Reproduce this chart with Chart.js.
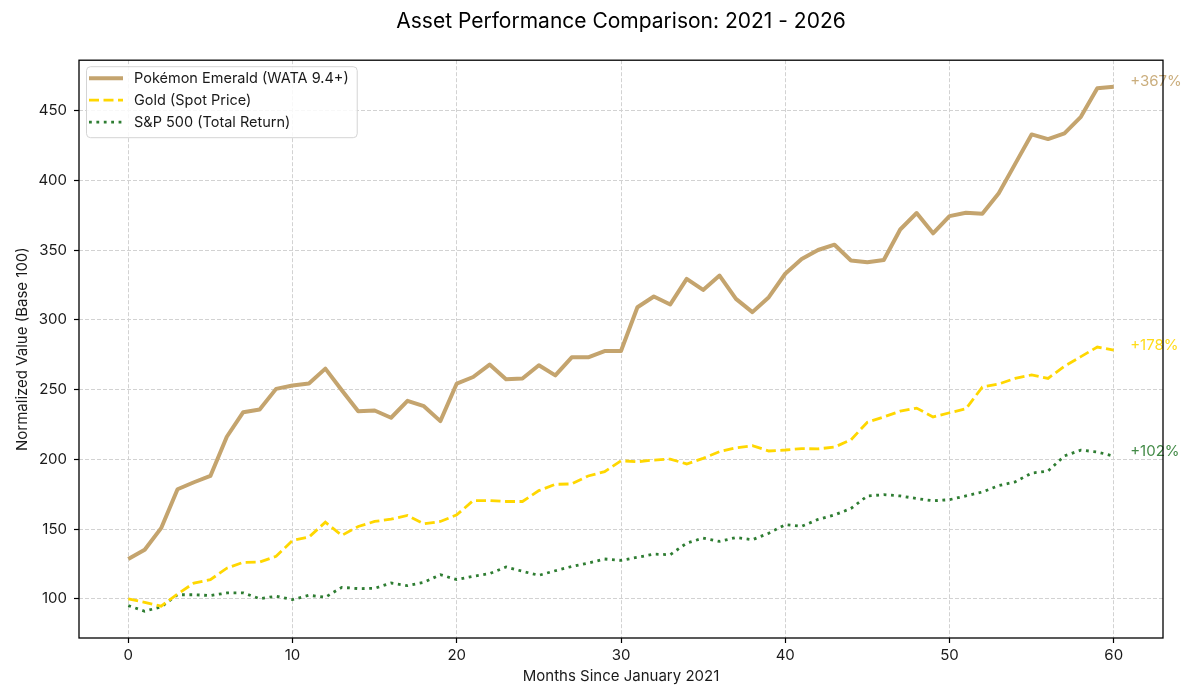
<!DOCTYPE html>
<html>
<head>
<meta charset="utf-8">
<title>Asset Performance Comparison</title>
<script src="https://cdn.jsdelivr.net/npm/chart.js@4.4.1/dist/chart.umd.min.js"></script>
<style>
  html, body { margin: 0; padding: 0; background: #fff; }
  #wrap { width: 1200px; height: 700px; }
</style>
</head>
<body>
<div id="wrap"><canvas id="myChart" width="1200" height="700"></canvas></div>
<script>
// months since Jan 2021
var months = [0, 1, 2, 3, 4, 5, 6, 7, 8, 9, 10, 11, 12, 13, 14, 15, 16, 17, 18, 19, 20,
    21, 22, 23, 24, 25, 26, 27, 28, 29, 30, 31, 32, 33, 34, 35, 36, 37, 38, 39, 40,
    41, 42, 43, 44, 45, 46, 47, 48, 49, 50, 51, 52, 53, 54, 55, 56, 57, 58, 59, 60];

var pokemon = [128.6, 135.2, 150.7, 178.6, 183.6, 188.1, 216.2, 233.8, 235.7, 250.5, 252.9,
    254.3, 265.0, 249.5, 234.5, 235.0, 229.8, 241.9, 238.1, 227.4, 254.3,
    259.0, 267.9, 257.4, 257.9, 267.4, 260.2, 273.1, 273.1, 277.6, 277.6,
    309.0, 316.7, 311.0, 329.3, 321.4, 331.7, 315.0, 305.5, 316.2, 333.0,
    343.5, 350.0, 353.8, 342.5, 341.2, 342.8, 364.7, 376.5, 362.0, 374.3,
    376.7, 375.9, 390.7, 411.7, 432.8, 429.5, 433.6, 445.4, 465.9, 467.0];

var gold = [100.0, 97.6, 94.8, 103.5, 111.4, 113.8, 122.0, 126.2, 126.4, 130.5, 141.9,
    144.3, 155.0, 145.5, 151.9, 155.5, 157.1, 159.8, 153.8, 155.5, 160.2,
    170.5, 170.5, 169.8, 169.8, 177.6, 182.1, 182.4, 188.1, 191.2, 199.0,
    198.3, 199.5, 200.2, 196.7, 200.7, 205.5, 208.3, 209.8, 206.0, 206.7,
    207.7, 207.5, 208.8, 214.0, 226.6, 230.4, 234.5, 236.7, 230.4, 233.4,
    236.2, 251.8, 254.0, 258.0, 260.5, 258.0, 266.8, 273.6, 280.5, 278.2];

var sp500 = [95.2, 91.2, 94.3, 103.0, 103.0, 102.4, 104.3, 104.3, 100.2, 101.9, 99.5,
    102.6, 101.2, 108.3, 107.4, 107.6, 111.4, 109.5, 111.9, 117.4, 113.8,
    116.2, 118.1, 122.9, 119.8, 116.9, 120.2, 123.3, 125.7, 128.6, 127.6,
    129.8, 132.1, 131.7, 140.0, 143.6, 141.2, 144.0, 142.4, 147.1, 153.2,
    152.0, 157.0, 160.2, 164.8, 173.8, 174.7, 173.8, 171.9, 170.3, 171.1,
    173.8, 176.6, 181.2, 183.9, 190.2, 191.6, 202.5, 206.6, 205.3, 202.3];

var seriesNames = ['Pokémon Emerald (WATA 9.4+)', 'Gold (Spot Price)', 'S&P 500 (Total Return)'];
var xTicks = [0, 10, 20, 30, 40, 50, 60];
var yTicks = [100, 150, 200, 250, 300, 350, 400, 450];

var FONT = 'Inter, "Noto Sans", sans-serif';
var TEXT = '#1a1a1a';

function points(vals) {
    return months.map(function (m, i) { return { x: m, y: vals[i] }; });
}

// "+367%" style labels just right of the last point
var endLabels = {
    id: 'endLabels',
    afterDatasetsDraw: function (chart) {
        var ctx = chart.ctx;
        var xs = chart.scales.x, ys = chart.scales.y;
        ctx.save();
        ctx.font = '15px ' + FONT;
        ctx.textAlign = 'left';
        ctx.textBaseline = 'middle';
        ctx.globalAlpha = 0.9;
        chart.data.datasets.forEach(function (ds) {
            var last = ds.data[ds.data.length - 1];
            var gain = Math.round(last.y - 100);
            ctx.fillStyle = ds.borderColor;
            ctx.fillText('+' + gain + '%', xs.getPixelForValue(last.x + 1), ys.getPixelForValue(last.y) - 5);
        });
        ctx.restore();
    }
};

// boxed legend in the top-left corner + full frame round the plot
var boxLegend = {
    id: 'boxLegend',
    afterDraw: function (chart) {
        var ctx = chart.ctx;
        var a = chart.chartArea;
        var x0 = a.left + 7, y0 = a.top + 6;
        ctx.save();
        ctx.font = '14.5px ' + FONT;
        var textW = 0;
        chart.data.datasets.forEach(function (ds) {
            textW = Math.max(textW, ctx.measureText(ds.label).width);
        });
        var w = 48 + textW + 8, h = 71;
        ctx.beginPath();
        ctx.roundRect(x0 + 0.5, y0 + 0.5, w, h, 4);
        ctx.fillStyle = 'rgba(255,255,255,0.85)';
        ctx.fill();
        ctx.strokeStyle = '#d4d4d4';
        ctx.lineWidth = 1;
        ctx.stroke();

        chart.data.datasets.forEach(function (ds, i) {
            var cy = y0 + 12 + i * 22;
            ctx.beginPath();
            ctx.setLineDash(ds.borderDash || []);
            ctx.lineWidth = ds.borderWidth;
            ctx.strokeStyle = ds.borderColor;
            ctx.lineCap = 'butt';
            ctx.moveTo(x0 + 3, cy);
            ctx.lineTo(x0 + 37, cy);
            ctx.stroke();
            ctx.setLineDash([]);
            ctx.fillStyle = TEXT;
            ctx.textBaseline = 'middle';
            ctx.fillText(ds.label, x0 + 48, cy);
        });

        ctx.strokeStyle = '#000';
        ctx.lineWidth = 1.3;
        ctx.strokeRect(a.left, a.top, a.right - a.left, a.bottom - a.top);
        ctx.restore();
    }
};

var gridOpts = {
    color: '#d2d2d2',
    lineWidth: 1,
    tickColor: '#000',
    tickLength: 5,
    tickWidth: 1.2,
    tickBorderDash: []
};

var ctx = document.getElementById('myChart').getContext('2d');
var myChart = new Chart(ctx, {
    type: 'line',
    data: {
        datasets: [{
            label: seriesNames[0],
            data: points(pokemon),
            borderColor: '#C4A46E',
            borderWidth: 4,
            borderJoinStyle: 'round',
            pointRadius: 0,
            tension: 0,
            fill: false
        }, {
            label: seriesNames[1],
            data: points(gold),
            borderColor: '#FFD700',
            borderWidth: 2.8,
            borderDash: [10, 4.5],
            borderCapStyle: 'butt',
            pointRadius: 0,
            tension: 0,
            fill: false
        }, {
            label: seriesNames[2],
            data: points(sp500),
            borderColor: '#2E7D32',
            borderWidth: 2.8,
            borderDash: [2.8, 4.6],
            borderCapStyle: 'butt',
            pointRadius: 0,
            tension: 0,
            fill: false
        }]
    },
    options: {
        responsive: false,
        devicePixelRatio: 1,
        animation: false,
        events: [],
        layout: { padding: { left: 0, right: 37, top: 0, bottom: 0 } },
        scales: {
            x: {
                type: 'linear',
                min: -3,
                max: 63,
                afterBuildTicks: function (s) { s.ticks = xTicks.map(function (v) { return { value: v }; }); },
                afterFit: function (s) { s.height = 62; },
                grid: gridOpts,
                border: { display: false, dash: [4, 2] },
                ticks: { font: { size: 15, family: FONT }, color: TEXT, padding: 3, maxRotation: 0, autoSkip: false },
                title: { display: true, text: 'Months Since January 2021', color: TEXT,
                    font: { size: 15, family: FONT }, padding: { top: 0, bottom: 15 } }
            },
            y: {
                type: 'linear',
                min: 72,
                max: 486,
                afterBuildTicks: function (s) { s.ticks = yTicks.map(function (v) { return { value: v }; }); },
                afterFit: function (s) { s.width = 79; },
                grid: gridOpts,
                border: { display: false, dash: [4, 2] },
                ticks: { font: { size: 15, family: FONT }, color: TEXT, padding: 7 },
                title: { display: true, text: 'Normalized Value (Base 100)', color: TEXT,
                    font: { size: 15, family: FONT }, padding: { top: 13, bottom: 0 } }
            }
        },
        plugins: {
            legend: { display: false },
            tooltip: { enabled: false },
            title: {
                display: true,
                fullSize: false,
                text: 'Asset Performance Comparison: 2021 - 2026',
                color: '#000',
                font: { size: 21, weight: 'normal', family: FONT },
                padding: { top: 9, bottom: 26 }
            }
        }
    },
    plugins: [endLabels, boxLegend]
});
</script>
</body>
</html>
